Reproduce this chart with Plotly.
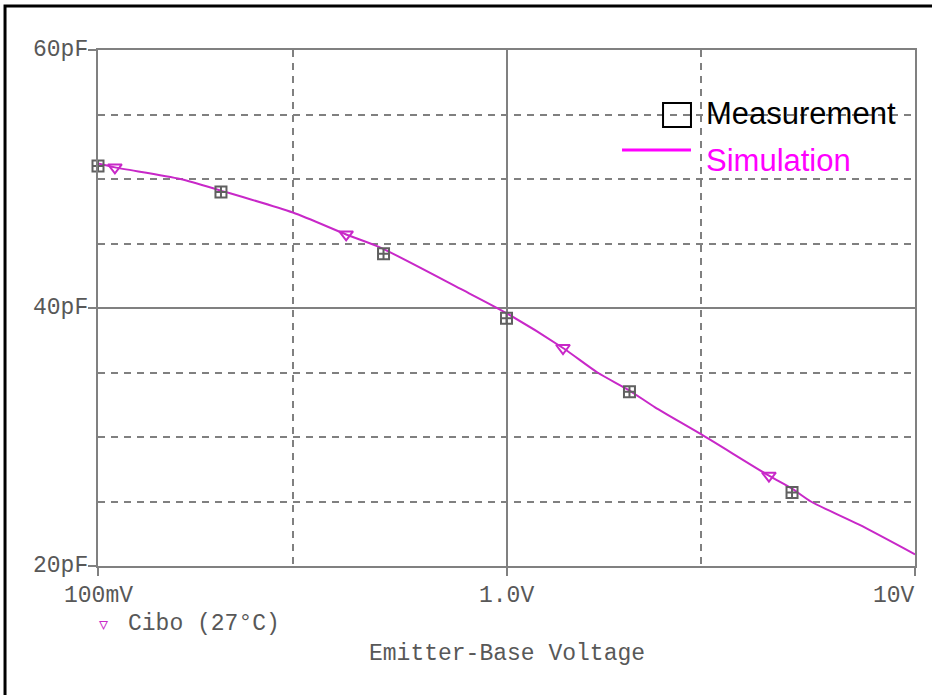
import plotly.graph_objects as go

# ---- data ----
sim_v = [0.1, 0.11, 0.159, 0.2, 0.3, 0.405, 0.49, 0.77, 1.0, 1.375, 1.67, 2.0, 2.31, 3.0, 4.39, 5.0, 5.56, 7.3, 10]
sim_c = [51.2, 50.9, 50.0, 49.1, 47.4, 45.7, 44.7, 41.5, 39.6, 36.9, 35.0, 33.6, 32.3, 30.2, 27.0, 26.0, 25.0, 23.2, 20.9]

tri_v = [0.11, 0.405, 1.375, 4.39]
tri_c = [50.9, 45.7, 36.9, 27.0]

meas_v = [0.1, 0.2, 0.5, 1.0, 2.0, 5.0]
meas_c = [51.0, 49.0, 44.2, 39.2, 33.5, 25.7]

x_ticks = [0.1, 1.0, 10]
x_tick_labels = ["100mV", "1.0V", "10V"]
y_ticks = [20, 40, 60]
y_tick_labels = ["20pF", "40pF", "60pF"]
x_minor = [0.3, 3]
y_minor = [25, 30, 35, 45, 50, 55]

GRID = "#808080"
MONO = "Liberation Mono, Courier New, monospace"
TXT = "#585858"
SIMC = "#C828C8"

fig = go.Figure()
fig.add_trace(go.Scatter(x=sim_v, y=sim_c, mode="lines",
                         line=dict(color=SIMC, width=2, shape="spline", smoothing=0.7),
                         cliponaxis=False, hoverinfo="skip"))
fig.add_trace(go.Scatter(x=tri_v, y=tri_c, mode="markers",
                         marker=dict(symbol="triangle-down-open", size=12,
                                     color=SIMC, line=dict(width=2, color=SIMC)),
                         cliponaxis=False))
fig.add_trace(go.Scatter(x=meas_v, y=meas_c, mode="markers",
                         marker=dict(symbol="square-cross-open", size=11,
                                     color="#606060", line=dict(width=2, color="#606060")),
                         cliponaxis=False))

fig.update_xaxes(type="log", range=[-1, 1], showline=True, mirror=True,
                 linecolor=GRID, linewidth=2, tickvals=x_ticks, ticktext=["", "", ""],
                 ticks="outside", ticklen=8, tickcolor=GRID, tickwidth=2,
                 showgrid=True, gridcolor=GRID, gridwidth=2, zeroline=False,
                 minor=dict(tickvals=x_minor, showgrid=True, gridcolor=GRID,
                            gridwidth=2, griddash="7px,6px", ticks=""))
fig.update_yaxes(range=[20, 60], showline=True, mirror=True,
                 linecolor=GRID, linewidth=2, tickvals=y_ticks, ticktext=["", "", ""],
                 ticks="outside", ticklen=8, tickcolor=GRID, tickwidth=2,
                 showgrid=True, gridcolor=GRID, gridwidth=2, zeroline=False,
                 minor=dict(tickvals=y_minor, showgrid=True, gridcolor=GRID,
                            gridwidth=2, griddash="7px,6px", ticks=""))

mono = dict(family=MONO, size=23, color=TXT)
ann = []
# x tick labels (log axis: x in log10 units)
ann.append(dict(x=-1, y=-0.0581, xref="x", yref="paper", text=x_tick_labels[0], showarrow=False,
                xanchor="center", yanchor="middle", font=mono))
ann.append(dict(x=0, y=-0.0581, xref="x", yref="paper", text=x_tick_labels[1], showarrow=False,
                xanchor="center", yanchor="middle", font=mono))
ann.append(dict(x=1, y=-0.0581, xref="x", yref="paper", text=x_tick_labels[2], showarrow=False,
                xanchor="right", xshift=2, yanchor="middle", font=mono))
# y tick labels
for v, t in zip(y_ticks, y_tick_labels):
    ann.append(dict(x=-0.0098, y=v, xref="paper", yref="y", text=t, showarrow=False,
                    xanchor="right", yanchor="middle", font=mono))
ann.append(dict(x=0.0345, y=-0.1124, xref="paper", yref="paper", text="Cibo (27°C)",
                showarrow=False, xanchor="left", yanchor="middle", font=mono))
ann.append(dict(x=0.0073, y=-0.1124, xref="paper", yref="paper", text="▿",
                showarrow=False, xanchor="center", yanchor="middle",
                font=dict(family="DejaVu Sans", size=18, color=SIMC)))
ann.append(dict(x=0.5, y=-0.1705, xref="paper", yref="paper", text="Emitter-Base Voltage",
                showarrow=False, xanchor="center", yanchor="middle", font=mono))
ann.append(dict(x=0.7418, y=0.876, xref="paper", yref="paper", text="Measurement",
                showarrow=False, xanchor="left", yanchor="middle",
                font=dict(family="Liberation Sans, Arial", size=31, color="black")))
ann.append(dict(x=0.7418, y=0.7849, xref="paper", yref="paper", text="Simulation",
                showarrow=False, xanchor="left", yanchor="middle",
                font=dict(family="Liberation Sans, Arial", size=31, color="#FF00FF")))

shapes = [
    dict(type="rect", xref="paper", yref="paper", x0=0.6916, x1=0.7258, y0=0.8508, y1=0.8973,
         line=dict(color="black", width=2), fillcolor="rgba(0,0,0,0)"),
    dict(type="line", xref="paper", yref="paper", x0=0.6414, x1=0.7258, y0=0.8062, y1=0.8062,
         line=dict(color="#FF00FF", width=3)),
    dict(type="rect", xref="paper", yref="paper", x0=-0.1138, x1=1.2, y0=-0.5, y1=1.0853,
         line=dict(color="black", width=3), fillcolor="rgba(0,0,0,0)", layer="below"),
]

fig.update_layout(width=932, height=695, margin=dict(l=98, r=17, t=50, b=129),
                  plot_bgcolor="white", paper_bgcolor="white", showlegend=False,
                  annotations=ann, shapes=shapes)
fig.write_html("out.html", config={"displayModeBar": False},
               post_script="document.body.style.margin='0';document.body.style.overflow='hidden';")
